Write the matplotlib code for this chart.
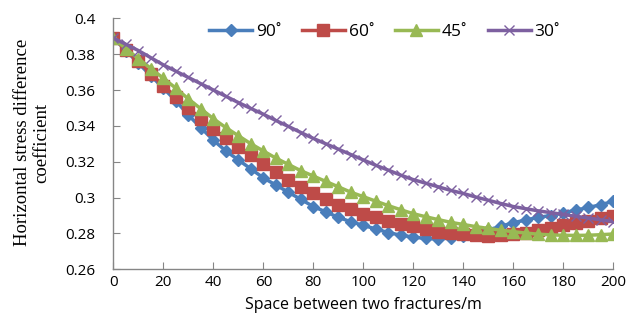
import matplotlib
matplotlib.use("Agg")
import matplotlib.pyplot as plt

spacing = list(range(0, 205, 5))

s90 = [0.389, 0.382, 0.375, 0.368, 0.361, 0.354, 0.346, 0.339, 0.332, 0.326,
       0.321, 0.316, 0.311, 0.307, 0.303, 0.299, 0.295, 0.292, 0.289, 0.2865,
       0.2845, 0.2825, 0.2805, 0.279, 0.278, 0.2772, 0.277, 0.2775, 0.2785, 0.280,
       0.282, 0.284, 0.286, 0.2875, 0.289, 0.290, 0.2915, 0.293, 0.2945, 0.296, 0.298]
s60 = [0.389, 0.3825, 0.376, 0.369, 0.3625, 0.356, 0.350, 0.344, 0.338, 0.333,
       0.328, 0.3235, 0.319, 0.3145, 0.310, 0.306, 0.3025, 0.299, 0.296, 0.2935,
       0.291, 0.289, 0.287, 0.2855, 0.284, 0.2825, 0.281, 0.280, 0.2795, 0.279,
       0.2788, 0.279, 0.2795, 0.2805, 0.2818, 0.2832, 0.2848, 0.286, 0.2872, 0.2884, 0.2895]
s45 = [0.389, 0.383, 0.3775, 0.372, 0.3665, 0.361, 0.355, 0.3495, 0.344, 0.339,
       0.3345, 0.330, 0.326, 0.322, 0.3185, 0.315, 0.312, 0.309, 0.306, 0.303,
       0.3005, 0.298, 0.2955, 0.2932, 0.291, 0.2893, 0.2877, 0.2862, 0.285, 0.2838,
       0.2828, 0.2818, 0.281, 0.2802, 0.2796, 0.2792, 0.279, 0.2789, 0.279, 0.2793, 0.2797]
s30 = [0.389, 0.3855, 0.382, 0.378, 0.374, 0.3705, 0.367, 0.3635, 0.360, 0.3565,
       0.353, 0.3497, 0.3465, 0.343, 0.3397, 0.3363, 0.333, 0.330, 0.327, 0.324,
       0.321, 0.318, 0.3153, 0.3125, 0.310, 0.308, 0.306, 0.304, 0.3023, 0.3003,
       0.2985, 0.2967, 0.295, 0.2938, 0.2926, 0.2916, 0.2906, 0.2896, 0.2886, 0.2876, 0.2866]

labels = ["90˚", "60˚", "45˚", "30˚"]
xticks = [0, 20, 40, 60, 80, 100, 120, 140, 160, 180, 200]
yticks = [0.26, 0.28, 0.30, 0.32, 0.34, 0.36, 0.38, 0.40]
yticklabels = ["0.26", "0.28", "0.3", "0.32", "0.34", "0.36", "0.38", "0.4"]

plt.rcParams['font.family'] = ['Open Sans', 'DejaVu Sans']

fig = plt.figure(figsize=(6.3, 3.21), dpi=100)
ax = fig.add_axes([0.18, 0.161, 0.7935, 0.782])

styles = [
    dict(color="#4A7EBB", marker="D", ms=6.4),
    dict(color="#BE4B48", marker="s", ms=8.2),
    dict(color="#98B954", marker="^", ms=8.7),
    dict(color="#7D60A0", marker="x", ms=7, mew=1.0),
]
for ys, lab, st in zip([s90, s60, s45, s30], labels, styles):
    ax.plot(spacing, ys, lw=2.5, label=lab, **st)

ax.set_xlim(0, 200)
ax.set_ylim(0.26, 0.40)
ax.set_xticks(xticks)
ax.set_yticks(yticks)
ax.set_yticklabels(yticklabels)
for sp in ["top", "right"]:
    ax.spines[sp].set_visible(False)
for sp in ["left", "bottom"]:
    ax.spines[sp].set_color("#868686")
    ax.spines[sp].set_linewidth(1.0)
ax.tick_params(axis="both", direction="in", length=5, color="#868686", labelsize=11)
ax.tick_params(axis="y", pad=13)
ax.tick_params(axis="x", pad=4)

ax.set_xlabel("Space between two fractures/m", fontsize=11.5, labelpad=5)
fig.text(0.051, 0.555, "Horizontal stress difference\ncoefficient", rotation=90,
         ha="center", va="center", family="Liberation Serif", fontsize=13.5,
         multialignment="center", linespacing=1.1)

leg = ax.legend(loc="center", bbox_to_anchor=(0.61, 0.90), bbox_transform=fig.transFigure,
                ncol=4, frameon=False, handlelength=2.5, handletextpad=0.2,
                columnspacing=1.2, fontsize=12.5)

fig.savefig("out.png", dpi=100)
